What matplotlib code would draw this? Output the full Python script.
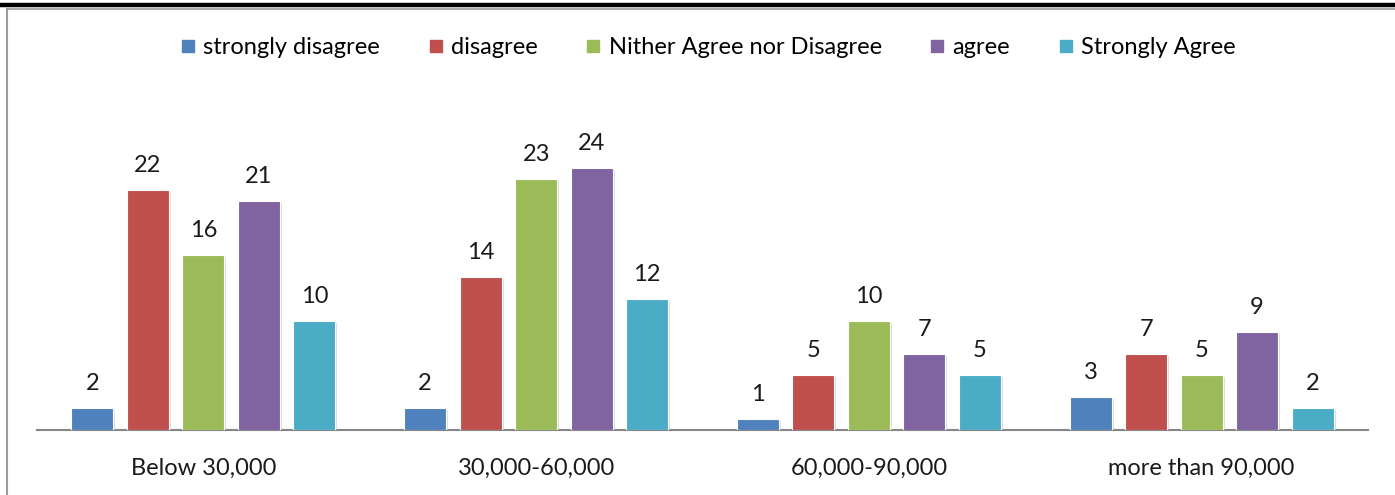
import numpy as np
import matplotlib.pyplot as plt
import matplotlib.patheffects as pe
from matplotlib.lines import Line2D

plt.rcParams['font.family'] = ['Lato', 'DejaVu Sans']

# Responses by monthly income group
income_groups = ['Below 30,000', '30,000-60,000', '60,000-90,000', 'more than 90,000']
responses = ['strongly disagree', 'disagree', 'Nither Agree nor Disagree', 'agree', 'Strongly Agree']
strongly_disagree = [2, 2, 1, 3]
disagree = [22, 14, 5, 7]
neutral = [16, 23, 10, 5]
agree = [21, 24, 7, 9]
strongly_agree = [10, 12, 5, 2]

series = [strongly_disagree, disagree, neutral, agree, strongly_agree]
colors = ['#4F81BD', '#C0504D', '#9BBB59', '#8064A2', '#4BACC6']
fs = 17

fig = plt.figure(figsize=(13.95, 4.95), dpi=100, facecolor='white')
ax = fig.add_axes([37 / 1395, 1 - 430 / 495, 1331 / 1395, 0.596])

x = np.arange(len(income_groups))
width = 0.126
step = 0.1667
shadow = [pe.SimplePatchShadow(offset=(1.5, -1.5), shadow_rgbFace='#bbbbbb', alpha=0.5), pe.Normal()]

for k, (vals, col) in enumerate(zip(series, colors)):
    pos = x + (k - 2) * step
    bars = ax.bar(pos, vals, width, color=col, edgecolor='white', linewidth=0.8,
                  label=responses[k], zorder=3)
    for b in bars:
        b.set_path_effects(shadow)
    for px, v in zip(pos, vals):
        ax.annotate(str(v), (px, v), xytext=(0, 10), textcoords='offset points',
                    ha='center', va='bottom', fontsize=fs, color='#1a1a1a')

ax.set_xlim(-0.5, 3.5)
ax.set_ylim(0, 27)
ax.set_xticks(x)
ax.set_xticklabels(income_groups, fontsize=fs, color='#1a1a1a')
ax.tick_params(axis='x', length=0, pad=20)
ax.set_yticks([])
for s in ['top', 'left', 'right']:
    ax.spines[s].set_visible(False)
ax.spines['bottom'].set_color('#868686')
ax.spines['bottom'].set_linewidth(1.5)

handles = [Line2D([], [], marker='s', linestyle='none', markersize=9, color=c,
                  markeredgecolor=c) for c in colors]
fig.legend(handles, responses, loc='center', bbox_to_anchor=(0.506, 1 - 48 / 495),
           ncol=5, frameon=False, fontsize=fs, handletextpad=0.15, columnspacing=1.85,
           handlelength=1.0)

# page frame: thick rule on top, thin border on the left
fig.add_artist(Line2D([0, 1], [1 - 5 / 495, 1 - 5 / 495], color='black', linewidth=3.2,
                      transform=fig.transFigure))
fig.add_artist(Line2D([7 / 1395, 1], [1 - 9 / 495, 1 - 9 / 495], color='#9a9a9a', linewidth=1.2,
                      transform=fig.transFigure))
fig.add_artist(Line2D([7 / 1395, 7 / 1395], [0, 1 - 9 / 495], color='#9a9a9a', linewidth=1.5,
                      transform=fig.transFigure))

fig.savefig('out.png', dpi=100, facecolor='white')
